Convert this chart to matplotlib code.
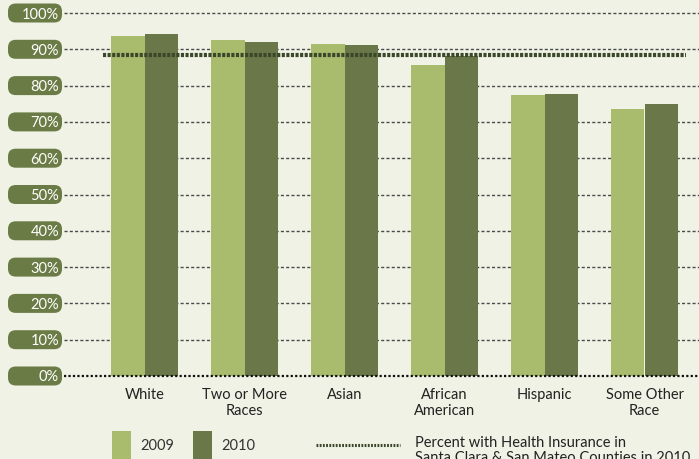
import matplotlib
matplotlib.use("Agg")
import matplotlib.pyplot as plt
from matplotlib.patches import FancyBboxPatch, Rectangle
from matplotlib.lines import Line2D
import numpy as np

plt.rcParams["font.family"] = ["Lato", "DejaVu Sans"]

categories = ["White", "Two or More\nRaces", "Asian", "African\nAmerican", "Hispanic", "Some Other\nRace"]
vals_2009 = [93.7, 92.6, 91.5, 85.7, 77.4, 73.6]
vals_2010 = [94.2, 92.0, 91.2, 88.2, 77.7, 74.9]
county_rate = 88.5
yticks = [0, 10, 20, 30, 40, 50, 60, 70, 80, 90, 100]
series_labels = ["2009", "2010"]
ref_label = "Percent with Health Insurance in\nSanta Clara & San Mateo Counties in 2010"

BG = "#eff2e4"
C09 = "#a9bc6e"
C10 = "#6a7748"
BOX = "#6b7b45"
REF = "#3a472b"

W, H = 699, 460
fig = plt.figure(figsize=(W / 100, H / 100), dpi=100, facecolor=BG)
# axes: x from 64px to 699px, y 0% at 377px, 100% at 14px
ax = fig.add_axes([64 / W, (H - 377) / H, (699 - 64) / W, (377 - 14) / H])
ax.set_facecolor(BG)
ax.set_ylim(0, 100)
ax.set_xlim(-0.805, 5.545)

x = np.arange(len(categories))
bw = 0.335

# grid lines
for t in yticks[1:]:
    ax.axhline(t, color="#4a4a4a", lw=1.0, ls=(0, (2.2, 1.6)), zorder=1, clip_on=False)

ax.bar(x - bw / 2, vals_2009, bw, color=C09, zorder=2)
ax.bar(x + bw / 2, vals_2010, bw, color=C10, zorder=2)

ax.axhline(0, color="#111111", lw=1.6, ls=(0, (1, 1)), zorder=3, clip_on=False)

ax.hlines(county_rate, x[0] - 0.415, x[-1] + 0.415, color=REF, lw=3.0,
          linestyles=[(0, (0.75, 0.35))], zorder=4)

for s in ax.spines.values():
    s.set_visible(False)
ax.set_xticks([])
ax.set_yticks([])

# category labels
for xi, lab in zip(x, categories):
    ax.text(xi, -3.0, lab, ha="center", va="top", fontsize=10.5, color="#222222",
            linespacing=1.2)

# y tick label boxes
for t in yticks:
    ypx = 377 - t * 3.63
    yc = (H - ypx) / H
    box = FancyBboxPatch((8 / W, yc - 9.5 / H), 54 / W, 19 / H,
                         boxstyle="round,pad=0,rounding_size=0.011",
                         transform=fig.transFigure, facecolor=BOX, edgecolor="none",
                         mutation_aspect=W / H)
    fig.patches.append(box)
    fig.text(59 / W, yc - 0.5 / H, f"{t}%", ha="right", va="center", fontsize=10.5,
             color="white")

# legend
leg_y = (H - 446) / H
for px, col, lab in [(112, C09, series_labels[0]), (193, C10, series_labels[1])]:
    fig.patches.append(Rectangle((px / W, (H - 466) / H), 19 / W, 34 / H,
                                 transform=fig.transFigure, facecolor=col, edgecolor="none"))
    fig.text((px + 28) / W, leg_y, lab, ha="left", va="center", fontsize=10.5, color="#333333")

fig.lines.append(Line2D([316 / W, 400 / W], [leg_y, leg_y], transform=fig.transFigure,
                        color=REF, lw=2.2, ls=(0, (0.6, 0.45))))
fig.text(415 / W, (H - 436) / H, ref_label, ha="left", va="top", fontsize=10.5,
         color="#222222", linespacing=1.05)

fig.savefig("out.png", dpi=100, facecolor=BG)
